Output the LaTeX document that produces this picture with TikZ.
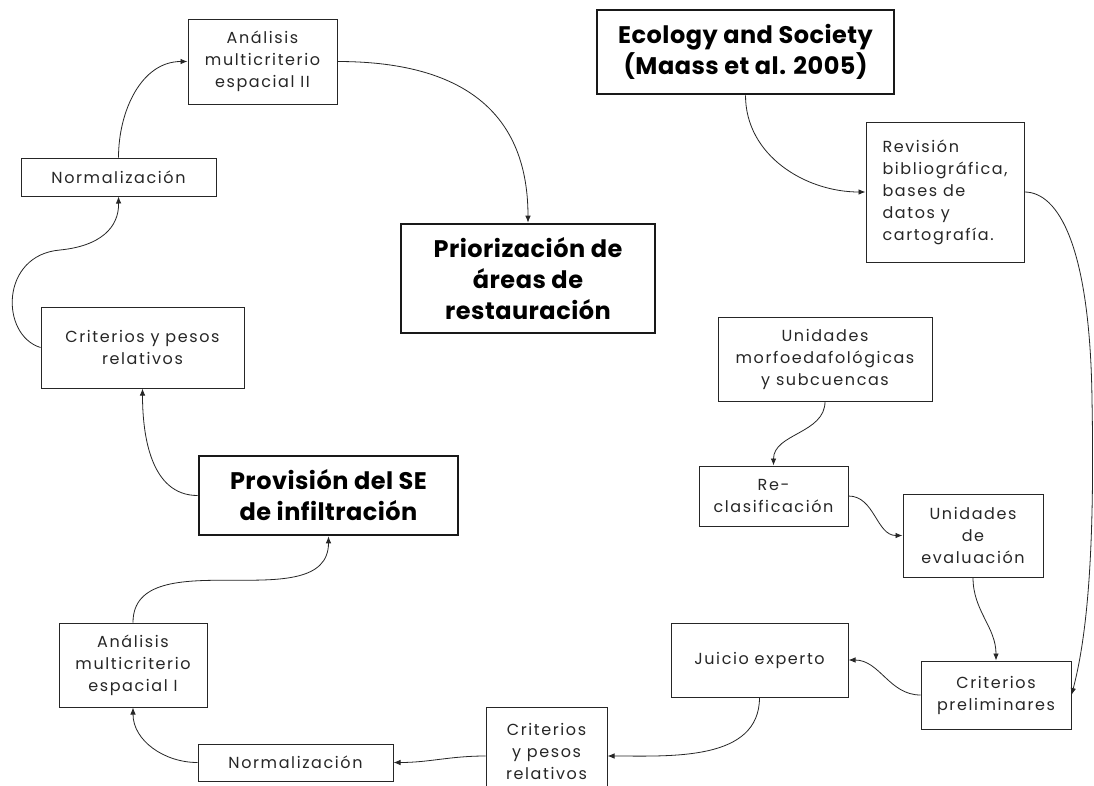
\documentclass[tikz,border=0pt]{standalone}
\usepackage{fontspec}
\setmainfont{Poppins}
\usetikzlibrary{arrows.meta}

\begin{document}
\begin{tikzpicture}[x=1pt, y=-1pt, >={Latex[length=7pt,width=5.5pt]},
  caja/.style={draw=black!85, line width=1pt, inner sep=0pt, align=center, text=black!85,
    font=\fontsize{16}{22}\selectfont\addfontfeatures{LetterSpace=10}},
  cajagrande/.style={draw=black!90, line width=2.6pt, inner sep=0pt, align=center,
    font=\fontsize{24}{31}\selectfont\bfseries\addfontfeatures{LetterSpace=2}},
  flecha/.style={->, line width=0.8pt, black!85}]
\useasboundingbox (0,0) rectangle (1094,785);
\clip (0,0) rectangle (1094,785);
\fill[white] (0,0) rectangle (1094,785);

% left loop
\node[caja, minimum width=149, minimum height=85] (anaII) at (262.5,61.5) {Análisis\\multicriterio\\espacial II};
\node[caja, minimum width=195, minimum height=38] (normII) at (118.5,177) {Normalización};
\node[caja, minimum width=203, minimum height=81] (critII) at (142.5,347.5) {Criterios y pesos\\relativos};
\node[cajagrande, minimum width=259, minimum height=79] (prov) at (328.5,495.5) {Provisión del SE\\de infiltración};
\node[caja, minimum width=148, minimum height=84] (anaI) at (133,665) {Análisis\\multicriterio\\espacial I};
\node[caja, minimum width=195, minimum height=37] (normI) at (295.5,762.5) {Normalización};
\node[cajagrande, minimum width=254, minimum height=109] (prio) at (528,278.5) {Priorización de\\áreas de\\restauración};

% right side
\node[cajagrande, minimum width=297, minimum height=84] (eco) at (745.5,52) {Ecology and Society\\(Maass et al. 2005)};
\node[caja, minimum width=158, minimum height=140, align=left] (rev) at (945,192) {Revisión\\bibliográfica,\\bases de\\datos y\\cartografía.};
\node[caja, minimum width=214, minimum height=84] (unid) at (825,359) {Unidades\\morfoedafológicas\\y subcuencas};
\node[caja, minimum width=149, minimum height=60] (recl) at (773.5,496) {Re-\\clasificación};
\node[caja, minimum width=140, minimum height=83] (eval) at (973,535.5) {Unidades\\de\\evaluación};
\node[caja, minimum width=177, minimum height=74] (juicio) at (759.5,660) {Juicio experto};
\node[caja, minimum width=150, minimum height=68] (prel) at (996,695) {Criterios\\preliminares};
\node[caja, minimum width=121, minimum height=88] (critI) at (546.5,751) {Criterios\\y pesos\\relativos};

% connectors
\draw[flecha] (eco.south) to[out=-90,in=180] (rev.west);
\draw[flecha] (rev.east) .. controls (1058,192) and (1090,245) .. (1092,400) .. controls (1095,560) and (1086,640) .. (prel.east);
\draw[flecha] (unid.south) to[out=-90,in=90] (recl.north);
\draw[flecha] (recl.east) to[out=0,in=180] (eval.west);
\draw[flecha] (eval.south) to[out=-90,in=90] (prel.north);
\draw[flecha] (prel.west) to[out=180,in=0] (juicio.east);
\draw[flecha] (juicio.south) to[out=-90,in=0] ([yshift=-5pt]critI.east);
\draw[flecha] ([yshift=-5pt]critI.west) to[out=180,in=0] (normI.east);
\draw[flecha] (normI.west) to[out=180,in=-90] (anaI.south);
\draw[flecha] (anaI.north) to[out=90,in=-90] (prov.south);
\draw[flecha] (prov.west) to[out=180,in=-90] (critII.south);
\draw[flecha] (critII.west) .. controls (0,335) and (0,255) .. (60,250) .. controls (100,246) and (119,228) .. (normII.south);
\draw[flecha] (normII.north) to[out=90,in=180] (anaII.west);
\draw[flecha] (anaII.east) to[out=0,in=90, looseness=1.2] (prio.north);
\end{tikzpicture}
\end{document}
